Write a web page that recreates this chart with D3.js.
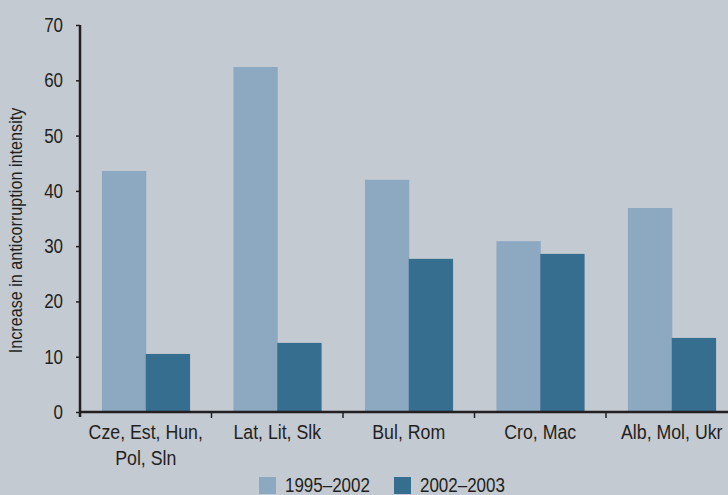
<!DOCTYPE html>
<html>
<head>
<meta charset="utf-8">
<script src="https://cdn.jsdelivr.net/npm/d3@7"></script>
<style>
  body { margin: 0; background: #c3cad1; }
  svg text { font-family: "Liberation Sans", sans-serif; fill: #231f20; }
</style>
</head>
<body>
<div id="chart"></div>
<script>
const categories = [['Cze, Est, Hun,', 'Pol, Sln'], ['Lat, Lit, Slk'], ['Bul, Rom'], ['Cro, Mac'], ['Alb, Mol, Ukr']];
const seriesNames = ['1995–2002', '2002–2003'];
const values1995 = [43.6, 62.4, 42.0, 30.9, 36.9];
const values2002 = [10.5, 12.5, 27.7, 28.6, 13.4];
const yTicks = [0, 10, 20, 30, 40, 50, 60, 70];
const colors = ['#8da9c2', '#366e90'];

const width = 728, height = 495;
const margin = { top: 25, left: 80, bottom: 83 };
const y0 = height - margin.bottom;

const svg = d3.select('#chart').append('svg')
  .attr('width', width)
  .attr('height', height);

svg.append('rect').attr('width', width).attr('height', height).attr('fill', '#c3cad1');

// condensed-looking text: regular font squeezed horizontally
const label = (parent, x, y, txt, anchor, size, sq = 0.87) => parent.append('g')
  .attr('transform', `translate(${x},${y}) scale(${sq},1)`)
  .append('text')
  .attr('text-anchor', anchor)
  .style('font-size', size + 'px')
  .text(txt);

const keys = categories.map(c => c.join(' '));

const x0 = d3.scaleBand()
  .domain(keys)
  .range([margin.left, 737.5])
  .paddingInner(1 / 3)
  .paddingOuter(1 / 6);

const x1 = d3.scaleBand()
  .domain(seriesNames)
  .range([0, x0.bandwidth()]);

const y = d3.scaleLinear()
  .domain([0, 70])
  .range([y0, margin.top]);

const data = keys.map((k, i) => ({ key: k, vals: [values1995[i], values2002[i]] }));

//bars
const groups = svg.selectAll('g.cat')
  .data(data)
  .enter().append('g')
  .attr('class', 'cat')
  .attr('transform', d => `translate(${x0(d.key)},0)`);

groups.selectAll('rect')
  .data(d => d.vals.map((v, j) => ({ s: seriesNames[j], v, j })))
  .enter().append('rect')
  .attr('x', d => x1(d.s))
  .attr('width', x1.bandwidth() + 0.5)
  .attr('y', d => y(d.v))
  .attr('height', d => y0 - y(d.v))
  .attr('fill', d => colors[d.j]);

//y axis
const yAxis = svg.append('g')
  .attr('transform', `translate(${margin.left},0)`)
  .call(d3.axisLeft(y).tickValues(yTicks).tickSize(4).tickFormat(''));
yAxis.select('.domain').remove();
yAxis.selectAll('line').attr('stroke', '#231f20').attr('stroke-width', 1.5);

yTicks.forEach(t => label(svg, margin.left - 17, y(t) + 7, t, 'end', 19.5));

svg.append('line')
  .attr('x1', margin.left).attr('x2', margin.left)
  .attr('y1', y(70)).attr('y2', y0 + 5)
  .attr('stroke', '#231f20').attr('stroke-width', 2.5);

//x axis
const step = x0.step();
const bounds = keys.map(k => x0(k) - x0.paddingOuter() * step);
svg.append('line')
  .attr('x1', margin.left).attr('x2', width)
  .attr('y1', y0).attr('y2', y0)
  .attr('stroke', '#231f20').attr('stroke-width', 2.5);
svg.selectAll('line.xtick')
  .data(bounds.slice(1))
  .enter().append('line')
  .attr('class', 'xtick')
  .attr('x1', d => d).attr('x2', d => d)
  .attr('y1', y0).attr('y2', y0 + 6)
  .attr('stroke', '#231f20').attr('stroke-width', 1.5);

categories.forEach((lines, i) => {
  const cx = x0(keys[i]) + x0.bandwidth() / 2;
  lines.forEach((ln, j) => label(svg, cx, y0 + 27 + j * 26, ln, 'middle', 19.5, 0.91));
});

//y label
svg.append('g')
  .attr('transform', `translate(22,${(y(70) + y0) / 2 + 12}) rotate(-90) scale(0.9,1)`)
  .append('text')
  .attr('text-anchor', 'middle')
  .style('font-size', '18px')
  .text('Increase in anticorruption intensity');

//legend
const legend = svg.append('g').attr('transform', 'translate(259,477)');
const legX = [0, 135];
seriesNames.forEach((s, i) => {
  legend.append('rect').attr('x', legX[i]).attr('width', 17).attr('height', 17).attr('fill', colors[i]);
  label(legend, legX[i] + 26, 15, s, 'start', 19.5);
});
</script>
</body>
</html>
